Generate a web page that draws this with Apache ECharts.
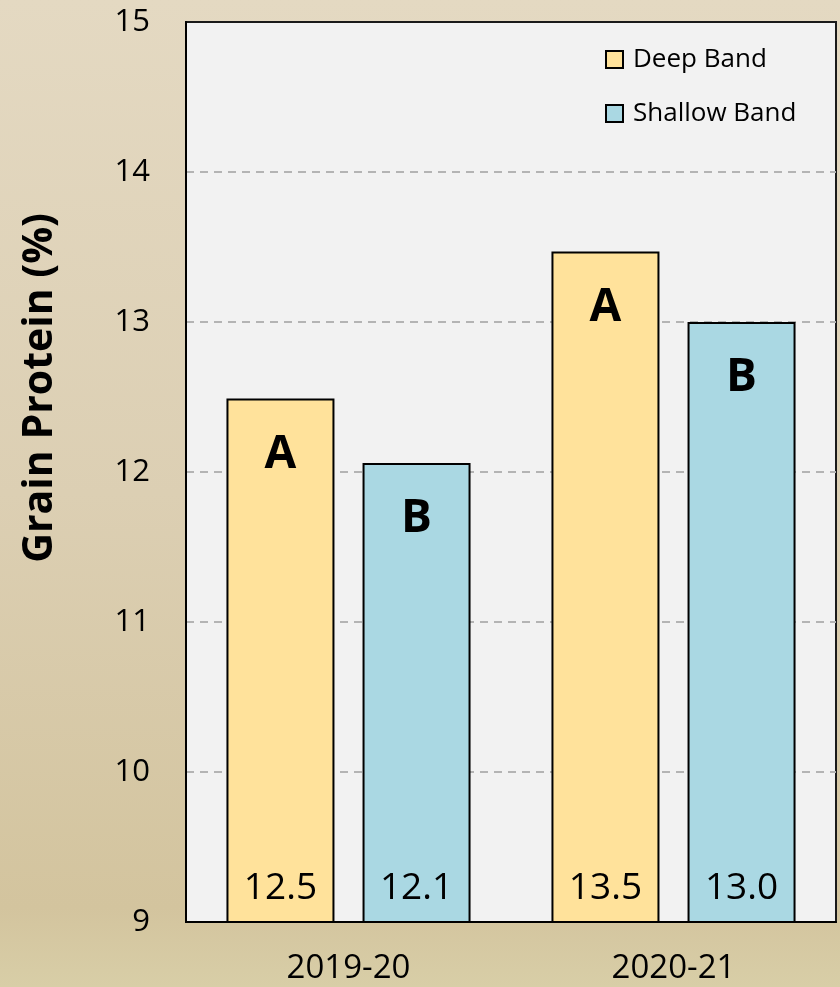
<!DOCTYPE html>
<html>
<head>
<meta charset="utf-8">
<script src="https://cdn.jsdelivr.net/npm/echarts@6/dist/echarts.min.js"></script>
<style>
  html, body { margin: 0; padding: 0; }
  #chart { width: 840px; height: 987px; }
</style>
</head>
<body>
<div id="chart"></div>
<script>
// Grain protein by season and fertiliser band placement
const seasons = ['2019-20', '2020-21'];
const deepBand = [12.49, 13.47];
const shallowBand = [12.06, 13.0];
const deepLetters = ['A', 'A'];
const shallowLetters = ['B', 'B'];
const yTicks = [9, 10, 11, 12, 13, 14, 15];

const FONT = '"Open Sans", "Noto Sans", sans-serif';
const chart = echarts.init(document.getElementById('chart'), null, { renderer: 'canvas' });

function valueLabel() {
  return {
    show: true,
    position: ['50%', '100%'],
    align: 'center',
    verticalAlign: 'bottom',
    offset: [0, -16],
    formatter: p => p.value.toFixed(1),
    fontFamily: FONT,
    fontSize: 37,
    color: '#000'
  };
}

function letterSeries(stackName, letters) {
  return {
    type: 'bar',
    name: stackName + ' letters',
    stack: stackName,
    data: letters.map(() => 0),
    itemStyle: { color: 'transparent', borderWidth: 0 },
    silent: true,
    label: {
      show: true,
      position: 'bottom',
      distance: 33,
      formatter: p => letters[p.dataIndex],
      fontFamily: FONT,
      fontWeight: 'bold',
      fontSize: 46,
      color: '#000'
    }
  };
}

const option = {
  animation: false,
  backgroundColor: {
    type: 'linear', x: 0, y: 0, x2: 0, y2: 1,
    colorStops: [
      { offset: 0, color: '#e4d9c2' },
      { offset: 0.5, color: '#dccfb3' },
      { offset: 0.92, color: '#d3c49e' },
      { offset: 1, color: '#d8cea7' }
    ]
  },
  grid: {
    left: 186, right: 4, top: 22, bottom: 65,
    show: true,
    backgroundColor: '#f2f2f2',
    borderColor: '#1a1a1a',
    borderWidth: 2
  },
  legend: {
    data: ['Deep Band', 'Shallow Band'],
    orient: 'vertical',
    left: 600,
    top: 40,
    icon: 'rect',
    itemWidth: 17,
    itemHeight: 17,
    itemGap: 25,
    textStyle: {
      fontFamily: FONT, fontSize: 26, color: '#000', lineHeight: 29,
      padding: [0, 0, 0, 5]
    }
  },
  xAxis: {
    type: 'category',
    data: seasons,
    axisLine: { show: true, lineStyle: { color: '#000', width: 2 } },
    axisTick: { show: false },
    axisLabel: { fontFamily: FONT, fontSize: 33, color: '#000', margin: 30 }
  },
  yAxis: {
    type: 'value',
    min: yTicks[0],
    max: yTicks[yTicks.length - 1],
    interval: 1,
    axisLine: { show: true, lineStyle: { color: '#000', width: 2 } },
    axisTick: { show: false },
    axisLabel: { fontFamily: FONT, fontSize: 31, color: '#000', margin: 36 },
    splitLine: {
      show: true,
      showMinLine: false,
      showMaxLine: false,
      lineStyle: { color: '#b4b4b4', type: [8, 6], width: 2 }
    }
  },
  graphic: [{
    type: 'text',
    left: 20,
    top: 213,
    rotation: Math.PI / 2,
    style: {
      text: 'Grain Protein (%)',
      fontFamily: FONT,
      fontWeight: 'bold',
      fontSize: 41,
      fill: '#000'
    }
  }],
  series: [
    {
      type: 'bar',
      name: 'Deep Band',
      stack: 'deep',
      data: deepBand,
      barWidth: 108,
      barGap: '26%',
      itemStyle: { color: '#ffe29b', borderColor: '#000', borderWidth: 2 },
      label: valueLabel()
    },
    letterSeries('deep', deepLetters),
    {
      type: 'bar',
      name: 'Shallow Band',
      stack: 'shallow',
      data: shallowBand,
      barWidth: 108,
      itemStyle: { color: '#aad8e3', borderColor: '#000', borderWidth: 2 },
      label: valueLabel()
    },
    letterSeries('shallow', shallowLetters)
  ]
};

chart.setOption(option);
</script>
</body>
</html>
